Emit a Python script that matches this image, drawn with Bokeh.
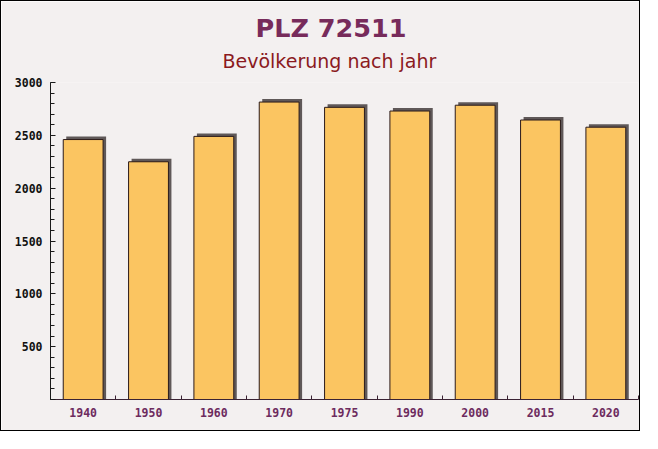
from bokeh.plotting import figure
from bokeh.models import Range1d, FixedTicker, SingleIntervalTicker, Title, ColumnDataSource
from bokeh.transform import dodge
from bokeh.embed import file_html
from bokeh.resources import INLINE

# ---- data ----
years = ["1940", "1950", "1960", "1970", "1975", "1990", "2000", "2015", "2020"]
population = [2460, 2250, 2490, 2815, 2765, 2730, 2785, 2645, 2577]
y_ticks_interval = 500
title_text = "PLZ 72511"
subtitle_text = "Bevölkerung nach jahr"

xpos = [i + 0.5 for i in range(len(years))]
source = ColumnDataSource(data=dict(x=xpos, pop=population, year=years))

BG = "#f3f0f0"

p = figure(width=640, height=431, output_backend="svg", toolbar_location=None,
           x_range=Range1d(0, len(years)), y_range=Range1d(0, 3000),
           min_border_left=49, min_border_right=3, min_border_bottom=33, min_border_top=81,
           background_fill_color=BG, border_fill_color=BG, outline_line_color=None)
p.styles = {"border": "1px solid #000"}

p.title.text = title_text
p.title.align = "left"
p.title.offset = 205
p.title.text_font = "DejaVu Sans"
p.title.text_font_style = "bold"
p.title.text_font_size = "25.5px"
p.title.text_color = "#772b5b"
p.title.standoff = -10

sub = Title(text=subtitle_text, align="left", offset=172, text_font="DejaVu Sans",
            text_font_style="normal", text_font_size="19px", text_color="#8b1a1e",
            standoff=21)
p.add_layout(sub, "above")

p.grid.visible = False

# shadow (3D depth)
p.vbar(x=dodge("x", 0.046), top=dodge("pop", 28), bottom=0, width=0.61,
       source=source, fill_color="#5f5858", line_color=None)
# front face
p.vbar(x="x", top="pop", bottom=0, width=0.61, source=source,
       fill_color="#fbc561", line_color="#2a1a1a", line_width=1)

# y axis
ya = p.yaxis[0]
ya.ticker = SingleIntervalTicker(interval=y_ticks_interval, num_minor_ticks=5)
ya.major_label_overrides = {0: ""}
ya.major_label_text_font = "DejaVu Sans Mono"
ya.major_label_text_font_style = "bold"
ya.major_label_text_font_size = "11.5px"
ya.major_label_text_color = "#111111"
ya.axis_line_color = "#1a1a1a"
ya.major_tick_line_color = "#1a1a1a"
ya.minor_tick_line_color = "#1a1a1a"
ya.major_tick_in = 5
ya.major_tick_out = 0
ya.minor_tick_in = 4
ya.minor_tick_out = 0
ya.major_label_standoff = 8

# x axis
xa = p.xaxis[0]
xa.ticker = FixedTicker(ticks=xpos, minor_ticks=list(range(len(years) + 1)))
xa.major_label_overrides = {x: y for x, y in zip(xpos, years)}
xa.major_label_text_font = "DejaVu Sans Mono"
xa.major_label_text_font_style = "bold"
xa.major_label_text_font_size = "11.5px"
xa.major_label_text_color = "#6d2b5e"
xa.axis_line_color = "#3a2233"
xa.major_tick_line_color = None
xa.minor_tick_line_color = "#3a2233"
xa.minor_tick_in = 4
xa.minor_tick_out = 0
xa.major_label_standoff = 2

open("out.html", "w").write(file_html(p, INLINE))
